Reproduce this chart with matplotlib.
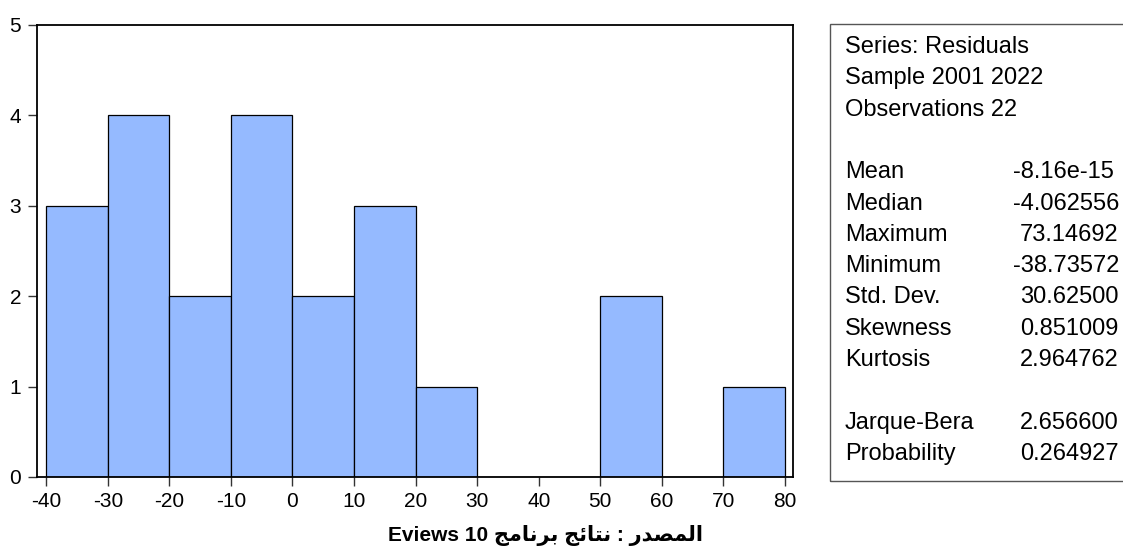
import matplotlib
matplotlib.use("Agg")
import matplotlib.pyplot as plt
from matplotlib import font_manager
from matplotlib.patches import Rectangle

# ---- data ----
bin_edges = [-40, -30, -20, -10, 0, 10, 20, 30, 40, 50, 60, 70, 80]
counts = [3, 4, 2, 4, 2, 3, 1, 0, 0, 2, 0, 1]
x_ticks = [-40, -30, -20, -10, 0, 10, 20, 30, 40, 50, 60, 70, 80]
y_ticks = [0, 1, 2, 3, 4, 5]

header_lines = ["Series: Residuals", "Sample 2001 2022", "Observations 22"]
stat_names = ["Mean", "Median", "Maximum", "Minimum", "Std. Dev.", "Skewness", "Kurtosis"]
stat_values = ["-8.16e-15", "-4.062556", "73.14692", "-38.73572", "30.62500", "0.851009", "2.964762"]
test_names = ["Jarque-Bera", "Probability"]
test_values = ["2.656600", "0.264927"]

caption_words = ["المصدر", "نتائج", "برنامج"]  # logical order (RTL)
caption_latin = "Eviews 10"

# ---- simple Arabic shaping (presentation forms, visual order) ----
FORMS = {
    '\u0627': ('\uFE8D', '\uFE8E', None, None),
    '\u0644': ('\uFEDD', '\uFEDE', '\uFEDF', '\uFEE0'),
    '\u0645': ('\uFEE1', '\uFEE2', '\uFEE3', '\uFEE4'),
    '\u0635': ('\uFEB9', '\uFEBA', '\uFEBB', '\uFEBC'),
    '\u062F': ('\uFEA9', '\uFEAA', None, None),
    '\u0631': ('\uFEAD', '\uFEAE', None, None),
    '\u0646': ('\uFEE5', '\uFEE6', '\uFEE7', '\uFEE8'),
    '\u062A': ('\uFE95', '\uFE96', '\uFE97', '\uFE98'),
    '\u0626': ('\uFE89', '\uFE8A', '\uFE8B', '\uFE8C'),
    '\u062C': ('\uFE9D', '\uFE9E', '\uFE9F', '\uFEA0'),
    '\u0628': ('\uFE8F', '\uFE90', '\uFE91', '\uFE92'),
}


def shape_word(w):
    out = []
    for i, c in enumerate(w):
        f = FORMS[c]
        prev = w[i - 1] if i > 0 else None
        nxt = w[i + 1] if i + 1 < len(w) else None
        jp = prev is not None and FORMS[prev][2] is not None
        jn = nxt is not None and f[2] is not None
        if jp and jn:
            g = f[3]
        elif jp:
            g = f[1]
        elif jn:
            g = f[2]
        else:
            g = f[0]
        out.append(g)
    return ''.join(reversed(out))


caption = (caption_latin + " " + shape_word(caption_words[2]) + " "
           + shape_word(caption_words[1]) + " : " + shape_word(caption_words[0]))

# ---- fonts ----
available = {f.name for f in font_manager.fontManager.ttflist}
tick_family = ["Liberation Sans Narrow"] if "Liberation Sans Narrow" in available else ["Liberation Sans"]
plt.rcParams['font.family'] = ["Liberation Sans", "DejaVu Sans"]

W, H = 1123, 550
fig = plt.figure(figsize=(W / 100, H / 100), dpi=100)

ax_l, ax_r, ax_t, ax_b = 37, 793, 25, 477
ax = fig.add_axes([ax_l / W, 1 - ax_b / H, (ax_r - ax_l) / W, (ax_b - ax_t) / H])

widths = [bin_edges[i + 1] - bin_edges[i] for i in range(len(counts))]
ax.bar(bin_edges[:-1], counts, width=widths, align='edge',
       color='#95BAFF', edgecolor='black', linewidth=0.9, zorder=2)

ax.set_xlim(-41.5, 81.3)
ax.set_ylim(0, 5)
ax.set_xticks(x_ticks)
ax.set_yticks(y_ticks)
ax.set_xticklabels([str(v) for v in x_ticks], family=tick_family, fontsize=15)
ax.set_yticklabels([str(v) for v in y_ticks], family=tick_family, fontsize=15)
ax.tick_params(axis='both', direction='out', length=6.5, width=1, color='#333333')
ax.tick_params(axis='x', pad=4)
ax.tick_params(axis='y', pad=5)
for s in ax.spines.values():
    s.set_linewidth(1.3)
    s.set_color('black')

# ---- stats box ----
box_l, box_t, box_b = 830, 24, 481
fig.patches.append(Rectangle((box_l / W, 1 - box_b / H), (W + 20 - box_l) / W, (box_b - box_t) / H,
                             transform=fig.transFigure, fill=False, edgecolor='#555555',
                             linewidth=1.0))

row0, dy = 47, 31.3
label_x = 845
neg_x, pos_x = 1013, 1020
fs = 17

def put(txt, x, row):
    y = row0 + row * dy
    fig.text(x / W, 1 - y / H, txt, fontsize=fs, ha='left', va='center', color='black')

for i, t in enumerate(header_lines):
    put(t, label_x, i)
for i, (n, v) in enumerate(zip(stat_names, stat_values)):
    put(n, label_x, 4 + i)
    put(v, neg_x if v.startswith('-') else pos_x, 4 + i)
for i, (n, v) in enumerate(zip(test_names, test_values)):
    put(n, label_x, 12 + i)
    put(v, neg_x if v.startswith('-') else pos_x, 12 + i)

# ---- caption ----
fig.text(546 / W, 1 - 535 / H, caption, fontsize=15, fontweight='bold',
         family=["Liberation Sans", "DejaVu Sans"], ha='center', va='center')

fig.savefig("out.png", dpi=100)
